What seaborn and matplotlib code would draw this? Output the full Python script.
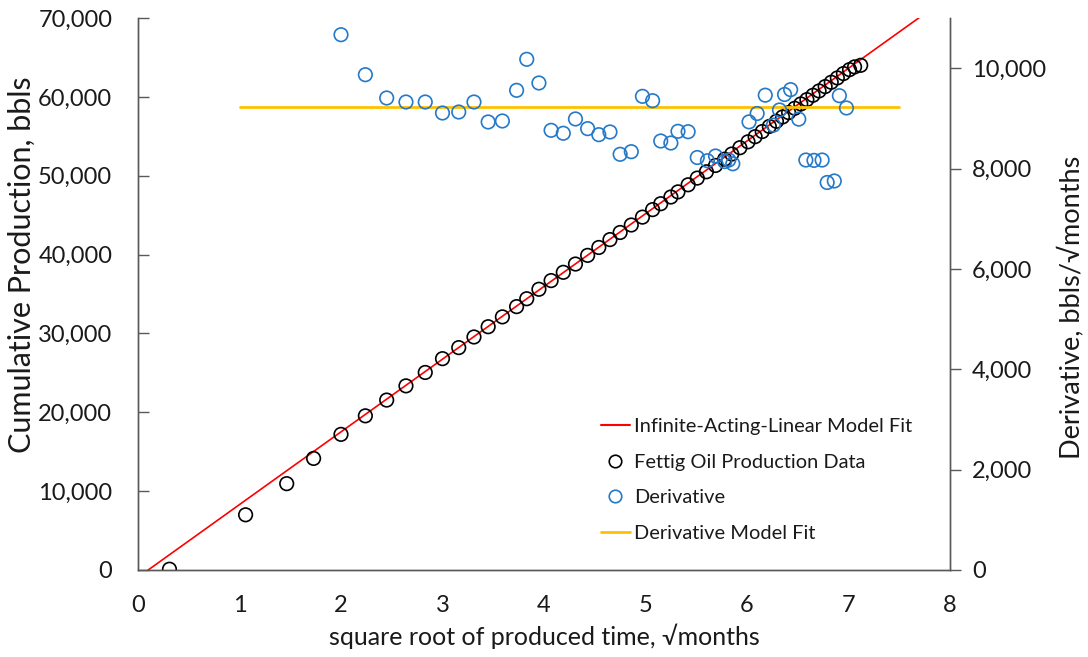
import matplotlib
matplotlib.use("Agg")
import matplotlib.pyplot as plt
import seaborn as sns
from matplotlib.lines import Line2D
from matplotlib.ticker import FuncFormatter, MultipleLocator

# ---------------- data ----------------
prod_x = [0.31, 1.06, 1.465, 1.73, 2.00, 2.24, 2.45, 2.64, 2.83, 3.00, 3.16, 3.31, 3.45,
          3.59, 3.73, 3.83, 3.95, 4.07, 4.19, 4.31, 4.43, 4.54, 4.65, 4.75, 4.86, 4.97,
          5.07, 5.15, 5.25, 5.32, 5.42, 5.51, 5.60, 5.69, 5.78, 5.85, 5.93, 6.01, 6.08,
          6.15, 6.22, 6.29, 6.35, 6.41, 6.47, 6.53, 6.59, 6.65, 6.71, 6.77, 6.83, 6.89,
          6.95, 7.01, 7.06, 7.12]
prod_y = [100, 7000, 10950, 14150, 17200, 19550, 21550, 23350, 25050, 26800, 28200, 29550,
          30850, 32100, 33400, 34400, 35600, 36700, 37750, 38800, 39900, 40900, 41900,
          42800, 43750, 44750, 45700, 46450, 47300, 47950, 48850, 49700, 50500, 51300,
          52100, 52750, 53550, 54300, 54950, 55600, 56250, 56900, 57450, 58000, 58550,
          59100, 59650, 60200, 60750, 61300, 61850, 62400, 62950, 63450, 63800, 64000]

deriv_x = [2.00, 2.24, 2.45, 2.64, 2.83, 3.00, 3.16, 3.31, 3.45, 3.59, 3.73, 3.83, 3.95,
           4.07, 4.19, 4.31, 4.43, 4.54, 4.65, 4.75, 4.86, 4.97, 5.07, 5.15, 5.25, 5.32,
           5.42, 5.51, 5.61, 5.69, 5.78, 5.82, 5.86, 6.02, 6.10, 6.18, 6.26, 6.32, 6.37,
           6.43, 6.51, 6.58, 6.66, 6.74, 6.79, 6.86, 6.91, 6.98]
deriv_y = [10667, 9870, 9406, 9326, 9326, 9107, 9127, 9326, 8928, 8948, 9559, 10177, 9705,
           8762, 8703, 8988, 8795, 8675, 8729, 8284, 8336, 9439, 9352, 8549, 8509, 8742,
           8734, 8220, 8156, 8250, 8140, 8170, 8095, 8930, 9097, 9462, 8865, 9167, 9476,
           9572, 8985, 8170, 8163, 8170, 7722, 7752, 9452, 9207]

linfit_x = [0.10, 7.80]
linfit_y = [0, 71000]

dfit_x = [1.0, 7.5]
dfit_y = [9220, 9220]

labels = ["Infinite-Acting-Linear Model Fit", "Fettig Oil Production Data",
          "Derivative", "Derivative Model Fit"]

# ---------------- style ----------------
sns.set_theme(style="white")
plt.rcParams["font.family"] = ["Lato", "DejaVu Sans"]
TXT = "#1a1a1a"
SP = "#595959"
RED = "#FF0000"
BLUE = "#2479C8"
GOLD = "#FFC000"

fig = plt.figure(figsize=(10.88, 6.57), dpi=100)
ax = fig.add_axes([138 / 1088, 1 - 570 / 657, 812 / 1088, 552 / 657])
ax2 = ax.twinx()

sns.lineplot(x=linfit_x, y=linfit_y, ax=ax, color=RED, linewidth=1.2)
sns.scatterplot(x=prod_x, y=prod_y, ax=ax, marker="o", s=95, facecolor="none",
                edgecolor="black", linewidth=1.2, zorder=3)
sns.scatterplot(x=deriv_x, y=deriv_y, ax=ax2, marker="o", s=95, facecolor="none",
                edgecolor=BLUE, linewidth=1.2, zorder=3)
sns.lineplot(x=dfit_x, y=dfit_y, ax=ax2, color=GOLD, linewidth=2.0)

ax.set_xlim(0, 8)
ax.set_ylim(0, 70000)
ax2.set_ylim(0, 11000)
ax.xaxis.set_major_locator(MultipleLocator(1))
ax.yaxis.set_major_locator(MultipleLocator(10000))
ax2.yaxis.set_major_locator(MultipleLocator(2000))
fmt = FuncFormatter(lambda v, p: f"{int(v):,}")
ax.yaxis.set_major_formatter(fmt)
ax2.yaxis.set_major_formatter(fmt)

for a in (ax, ax2):
    a.spines["top"].set_visible(False)
    for s in ("left", "right", "bottom"):
        a.spines[s].set_color(SP)
        a.spines[s].set_linewidth(1.0)

ax.tick_params(axis="x", direction="in", length=8, width=1, color=SP,
               labelsize=17, labelcolor=TXT, pad=18)
ax.tick_params(axis="y", direction="in", length=8, width=1, color=SP,
               labelsize=17, labelcolor=TXT, pad=18.5, left=True)
ax2.tick_params(axis="y", direction="out", length=8, width=1, color=SP,
                labelsize=17, labelcolor=TXT, pad=8, right=True)

ax.set_xlabel("square root of produced time, √months", fontsize=18, color=TXT)
ax.set_ylabel("Cumulative Production, bbls", fontsize=22, color=TXT)
ax2.set_ylabel("Derivative, bbls/√months", fontsize=19.5, color=TXT)
ax.xaxis.set_label_coords(0.5, -0.097)
ax.yaxis.set_label_coords(-0.126, 0.554)
ax2.yaxis.set_label_coords(1.132, 0.475)

handles = [
    Line2D([], [], color=RED, linewidth=1.5),
    Line2D([], [], linestyle="none", marker="o", markersize=9, markerfacecolor="none",
           markeredgecolor="black", markeredgewidth=1.2),
    Line2D([], [], linestyle="none", marker="o", markersize=9, markerfacecolor="none",
           markeredgecolor=BLUE, markeredgewidth=1.2),
    Line2D([], [], color=GOLD, linewidth=2.0),
]
leg = ax2.legend(handles, labels, loc="lower left", bbox_to_anchor=(0.548, 0.019),
                 frameon=False, fontsize=14.4, handlelength=1.45, handletextpad=0.2,
                 labelspacing=0.92, labelcolor=TXT)

fig.savefig("out.png", dpi=100)
